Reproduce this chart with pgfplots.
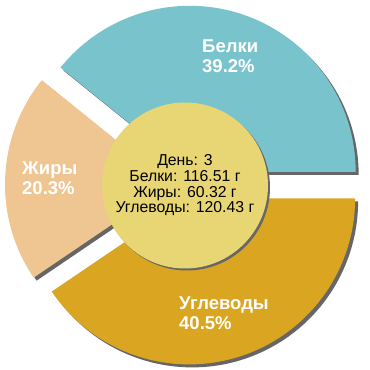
\documentclass[border=0pt]{standalone}
\usepackage{fontspec}
\setmainfont{Liberation Sans}
\usepackage{pgfplots}
\pgfplotsset{compat=1.18}
\usepackage{pgfplotstable}

\definecolor{cBel}{HTML}{79C4CC}
\definecolor{cFat}{HTML}{EFC592}
\definecolor{cCarb}{HTML}{DAA520}
\definecolor{cCen}{HTML}{E8D574}
\definecolor{cShadow}{HTML}{666666}

\pgfplotstableread{
name value
Belki 116.51
Zhiry 60.32
Uglevody 120.43
}\macrotable

\newcommand\slice[5]{%
  \fill[#5] (axis cs:#1,#2) -- ++(#3:166pt) arc[start angle=#3, end angle=#4, radius=166pt] -- cycle;}

\pgfplotstablegetelem{0}{value}\of\macrotable \let\vA\pgfplotsretval
\pgfplotstablegetelem{1}{value}\of\macrotable \let\vB\pgfplotsretval
\pgfplotstablegetelem{2}{value}\of\macrotable \let\vC\pgfplotsretval
\pgfmathsetmacro\total{\vA+\vB+\vC}
\pgfmathsetmacro\fA{\vA/\total}
\pgfmathsetmacro\fB{\vB/\total}
\pgfmathsetmacro\aA{360*\fA}
\pgfmathsetmacro\aB{\aA+360*\fB}
\pgfmathsetmacro\mA{\aA/2}
\pgfmathsetmacro\mB{(\aA+\aB)/2}
\pgfmathsetmacro\mC{(\aB+360)/2}
\pgfmathsetmacro\xA{14*cos(\mA)}\pgfmathsetmacro\yA{14*sin(\mA)}
\pgfmathsetmacro\xB{14*cos(\mB)}\pgfmathsetmacro\yB{14*sin(\mB)}
\pgfmathsetmacro\xC{14*cos(\mC)}\pgfmathsetmacro\yC{14*sin(\mC)}
\pgfmathsetmacro\sxA{\xA+3}\pgfmathsetmacro\syA{\yA-3}
\pgfmathsetmacro\sxB{\xB+3}\pgfmathsetmacro\syB{\yB-3}
\pgfmathsetmacro\sxC{\xC+3}\pgfmathsetmacro\syC{\yC-3}

\begin{document}%
\begin{tikzpicture}
\begin{axis}[x=1pt, y=1pt, xmin=-185, xmax=185, ymin=-185, ymax=185,
  hide axis, ticks=none, clip=false]
\addplot[draw=none, forget plot] coordinates {(-185,-185) (185,185)};
\coordinate (ll) at (axis cs:-185,-185);
\coordinate (ur) at (axis cs:185,185);
% shadows
\slice{\sxA}{\syA}{0}{\aA}{cShadow}
\slice{\sxB}{\syB}{\aA}{\aB}{cShadow}
\slice{\sxC}{\syC}{\aB}{360}{cShadow}
% slices
\slice{\xA}{\yA}{0}{\aA}{cBel}
\slice{\xB}{\yB}{\aA}{\aB}{cFat}
\slice{\xC}{\yC}{\aB}{360}{cCarb}
% center
\fill[cShadow] (axis cs:2,-2.5) circle[radius=83pt];
\fill[cCen] (axis cs:0,-0.5) circle[radius=83pt];
% labels
\tikzset{lab/.style={anchor=base west, text=white, inner sep=0pt, font=\bfseries\fontsize{18.5}{20}\selectfont}}
\node[lab] at (axis cs:17,132) {Белки};
\node[lab] at (axis cs:17,112.5) {39.2\%};
\node[lab] at (axis cs:-163,10) {Жиры};
\node[lab] at (axis cs:-163,-10) {20.3\%};
\node[lab] at (axis cs:-6,-125) {Углеводы};
\node[lab] at (axis cs:-6,-145) {40.5\%};
\tikzset{cen/.style={anchor=base, text=black, inner sep=0pt, font=\fontsize{15.8}{16}\selectfont}}
\node[cen] at (axis cs:0,19.3) {День: 3};
\node[cen] at (axis cs:0,3.5) {Белки: 116.51 г};
\node[cen] at (axis cs:0,-12.2) {Жиры: 60.32 г};
\node[cen] at (axis cs:0,-27.8) {Углеводы: 120.43 г};
\end{axis}
\pgfresetboundingbox
\useasboundingbox (ll) rectangle (ur);
\end{tikzpicture}%
\end{document}
